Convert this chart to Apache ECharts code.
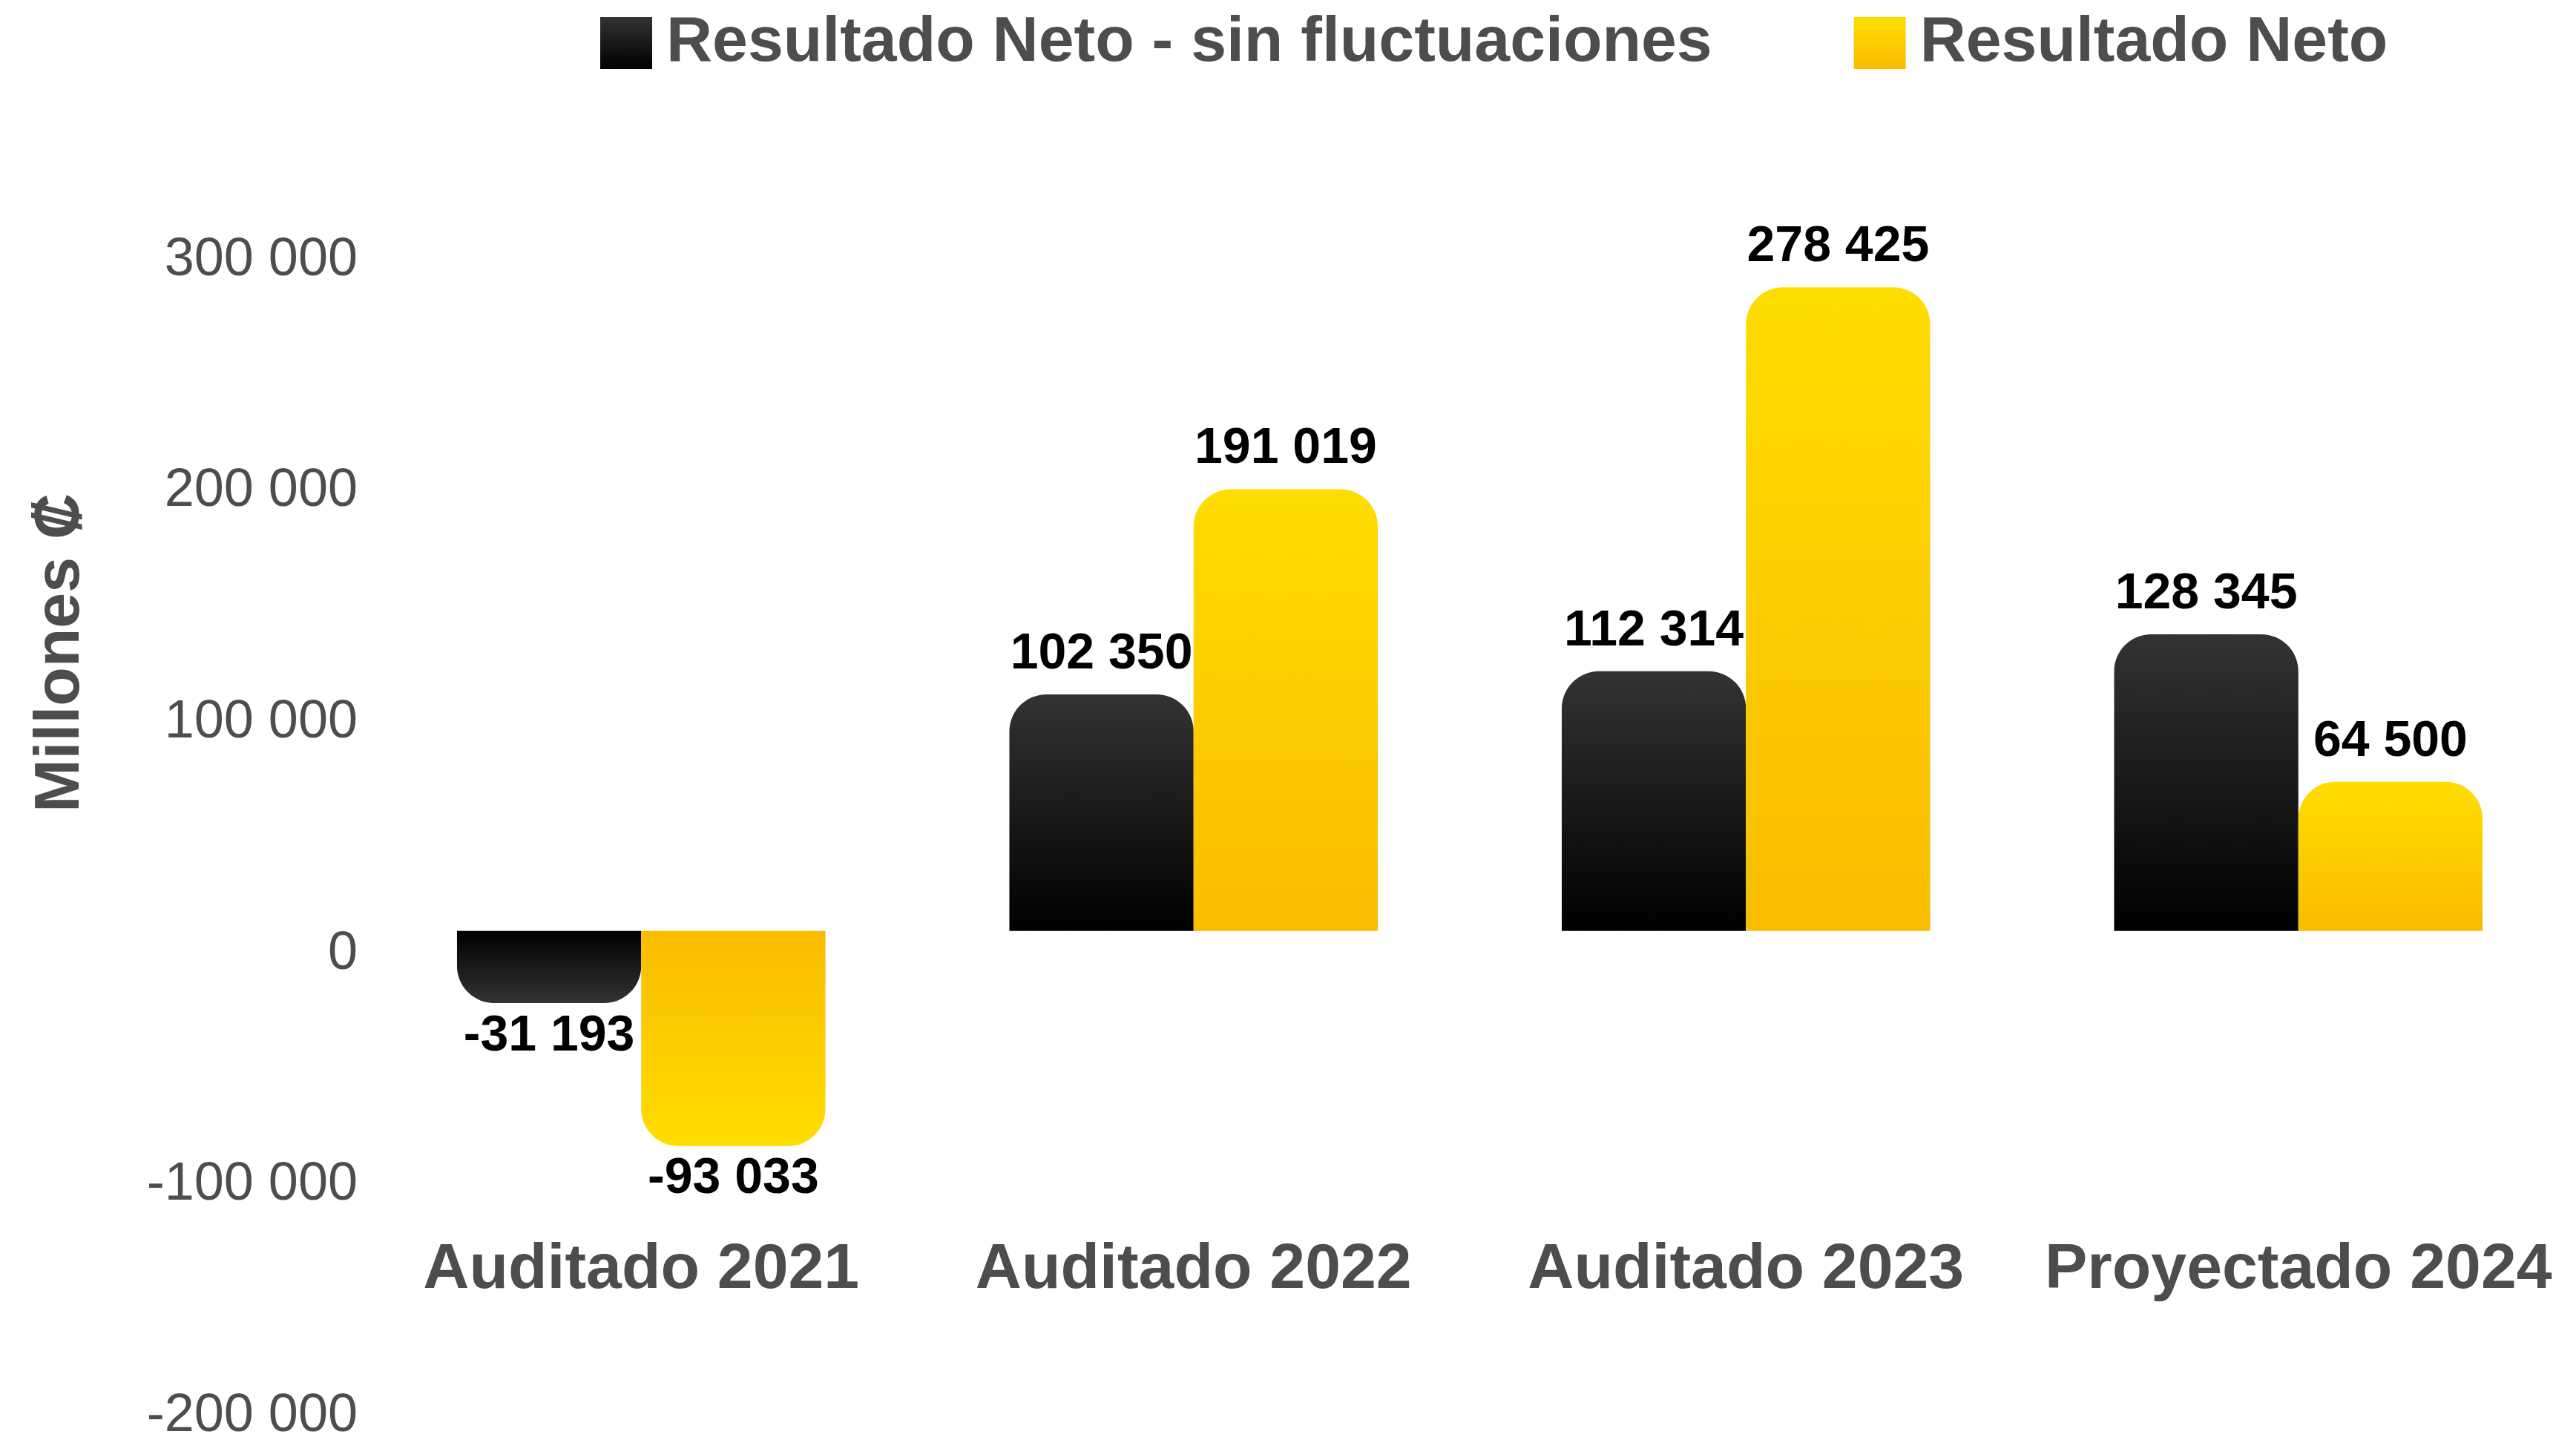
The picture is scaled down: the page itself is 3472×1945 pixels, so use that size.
<!DOCTYPE html>
<html>
<head>
<meta charset="utf-8">
<script src="https://cdn.jsdelivr.net/npm/echarts@6/dist/echarts.min.js"></script>
<style>
html,body{margin:0;padding:0;background:#fff;}
#chart{width:3472px;height:1945px;}
</style>
</head>
<body>
<div id="chart"></div>
<script>
const categories = ['Auditado 2021', 'Auditado 2022', 'Auditado 2023', 'Proyectado 2024'];
const seriesNames = ['Resultado Neto - sin fluctuaciones', 'Resultado Neto'];
const sinFluctuaciones = [-31193, 102350, 112314, 128345];
const resultadoNeto = [-93033, 191019, 278425, 64500];
const yMin = -200000;
const yMax = 300000;
const yInterval = 100000;
const axisTitle = 'Millones ₡';

const FONT = "'Liberation Sans', Arial, Helvetica, sans-serif";
const GREY = '#4d4d4d';

function grad(top, bottom) {
  return new echarts.graphic.LinearGradient(0, 0, 0, 1, [
    { offset: 0, color: top },
    { offset: 1, color: bottom }
  ]);
}
// light colour at bar end, dark/base colour at zero line
const palettes = [
  { end: '#333333', base: '#000000' },
  { end: '#FFDD00', base: '#F9BC00' }
];

function fmt(v) {
  const s = String(Math.abs(v)).replace(/\B(?=(\d{3})+(?!\d))/g, ' ');
  return (v < 0 ? '-' : '') + s;
}

function buildData(values, pal) {
  return values.map(v => {
    const neg = v < 0;
    return {
      value: v,
      itemStyle: {
        color: neg ? grad(pal.base, pal.end) : grad(pal.end, pal.base),
        borderRadius: neg ? [0, 0, 50, 50] : [50, 50, 0, 0]
      },
      label: { position: neg ? 'bottom' : 'top', distance: neg ? 11 : 20 }
    };
  });
}

function makeSeries(name, values, pal) {
  return {
    name: name,
    type: 'bar',
    barGap: '0%',
    barCategoryGap: '33.3%',
    itemStyle: { color: grad(pal.end, pal.base) },
    label: {
      show: true,
      fontFamily: FONT,
      fontSize: 68,
      fontWeight: 'bold',
      color: '#000',
      formatter: p => fmt(p.value)
    },
    data: buildData(values, pal)
  };
}

const chart = echarts.init(document.getElementById('chart'), null, { renderer: 'canvas' });
chart.setOption({
  backgroundColor: '#ffffff',
  animation: false,
  textStyle: { fontFamily: FONT },
  legend: {
    left: 804,
    top: 6,
    itemWidth: 70,
    itemHeight: 70,
    itemGap: 191,
    icon: 'rect',
    textStyle: { fontFamily: FONT, fontSize: 86, fontWeight: 'bold', color: GREY, lineHeight: 86, padding: [8, 0, 0, 14] },
    data: seriesNames
  },
  grid: { left: 492, right: 2, top: 320, bottom: 62, containLabel: false },
  xAxis: {
    type: 'category',
    data: categories,
    axisLine: { show: false },
    axisTick: { show: false },
    axisLabel: {
      fontFamily: FONT,
      fontSize: 86,
      fontWeight: 'bold',
      color: GREY,
      verticalAlign: 'middle',
      margin: -166,
      interval: 0
    }
  },
  yAxis: {
    type: 'value',
    min: yMin,
    max: yMax,
    interval: yInterval,
    splitLine: { show: false },
    axisLine: { show: false },
    axisTick: { show: false },
    axisLabel: {
      fontFamily: FONT,
      fontSize: 72,
      color: GREY,
      margin: 10,
      verticalAlign: 'top',
      lineHeight: 62,
      formatter: v => fmt(v)
    }
  },
  graphic: [{
    type: 'text',
    x: 82,
    y: 880,
    rotation: Math.PI / 2,
    style: {
      text: axisTitle,
      fontFamily: FONT,
      fontSize: 86,
      fontWeight: 'bold',
      fill: GREY,
      align: 'center',
      verticalAlign: 'middle'
    }
  }],
  series: [
    makeSeries(seriesNames[0], sinFluctuaciones, palettes[0]),
    makeSeries(seriesNames[1], resultadoNeto, palettes[1])
  ]
});
</script>
</body>
</html>
